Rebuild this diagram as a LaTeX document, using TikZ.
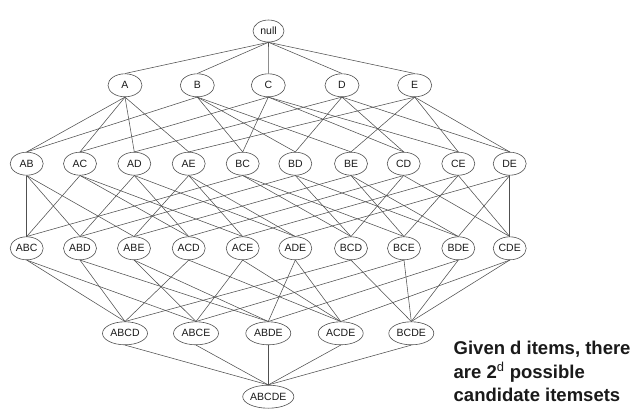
\documentclass[tikz,border=0pt]{standalone}
\usepackage{fontspec}
\setmainfont{Liberation Sans}
\usetikzlibrary{shapes.geometric}
\definecolor{linec}{HTML}{505050}
\definecolor{txt}{HTML}{1A1A1A}
\begin{document}
\begin{tikzpicture}[x=1pt,y=-1pt,
  set/.style={ellipse,draw=linec,line width=0.6pt,inner sep=0pt,minimum height=23pt,minimum width=33pt,
    font=\fontsize{10.5}{12}\selectfont,text=txt},
  set4/.style={set,minimum width=45pt},
  set5/.style={set,minimum width=47pt},
  link/.style={draw=linec,line width=0.55pt}]
\useasboundingbox[fill=white] (0,0) rectangle (640,416);
% level 0
\node[set,minimum width=31pt,minimum height=22pt] (null) at (268.5,31) {null};
% level 1
\node[set,minimum width=34pt] (A) at (125,85.3) {A};
\node[set,minimum width=34pt] (B) at (197.3,85.3) {B};
\node[set,minimum width=34pt] (C) at (268.3,85.3) {C};
\node[set,minimum width=34pt] (D) at (342,85.3) {D};
\node[set,minimum width=34pt] (E) at (414.7,85.3) {E};
% level 2
\node[set] (AB) at (26.7,163.7) {AB};
\node[set] (AC) at (80,163.7) {AC};
\node[set] (AD) at (134.3,163.7) {AD};
\node[set] (AE) at (188.7,163.7) {AE};
\node[set] (BC) at (242.7,163.7) {BC};
\node[set] (BD) at (295.3,163.7) {BD};
\node[set] (BE) at (351,163.7) {BE};
\node[set] (CD) at (403.7,163.7) {CD};
\node[set] (CE) at (458.3,163.7) {CE};
\node[set] (DE) at (509.7,163.7) {DE};
% level 3
\node[set] (ABC) at (26.7,248.3) {ABC};
\node[set] (ABD) at (80,248.3) {ABD};
\node[set] (ABE) at (134,248.3) {ABE};
\node[set] (ACD) at (188.7,248.3) {ACD};
\node[set] (ACE) at (242.7,248.3) {ACE};
\node[set] (ADE) at (295.3,248.3) {ADE};
\node[set] (BCD) at (351,248.3) {BCD};
\node[set] (BCE) at (404,248.3) {BCE};
\node[set] (BDE) at (458.3,248.3) {BDE};
\node[set] (CDE) at (509.7,248.3) {CDE};
% level 4
\node[set4] (ABCD) at (125,333.3) {ABCD};
\node[set4] (ABCE) at (196,333.3) {ABCE};
\node[set4] (ABDE) at (268.3,333.3) {ABDE};
\node[set4] (ACDE) at (340.7,333.3) {ACDE};
\node[set4] (BCDE) at (411.3,333.3) {BCDE};
% level 5
\node[set5] (ABCDE) at (268.3,396.7) {ABCDE};
% edges
\foreach \c/\ps in {A/{null},B/{null},C/{null},D/{null},E/{null},
  AB/{A,B},AC/{A,C},AD/{A,D},AE/{A,E},BC/{B,C},BD/{B,D},BE/{B,E},CD/{C,D},CE/{C,E},DE/{D,E},
  ABC/{AB,AC,BC},ABD/{AB,AD,BD},ABE/{AB,AE,BE},ACD/{AC,AD,CD},ACE/{AC,AE,CE},
  ADE/{AD,AE,DE},BCD/{BC,BD,CD},BCE/{BC,BE,CE},BDE/{BD,BE,DE},CDE/{CD,CE,DE},
  ABCD/{ABC,ABD,ACD,BCD},ABCE/{ABC,ABE,ACE,BCE},ABDE/{ABD,ABE,ADE,BDE},
  ACDE/{ACD,ACE,ADE,CDE},BCDE/{BCD,BCE,BDE,CDE},
  ABCDE/{ABCD,ABCE,ABDE,ACDE,BCDE}}
  \foreach \p in \ps \draw[link] (\p.south) -- (\c.north);
% note
\node[anchor=base west,align=left,inner sep=0pt,text=txt,
  font=\bfseries\fontsize{18.5}{23.7}\selectfont] (note) at (453.5,401.7)
  {Given d items, there\\are 2\textsuperscript{\mdseries d} possible\\candidate itemsets};
\end{tikzpicture}
\end{document}
